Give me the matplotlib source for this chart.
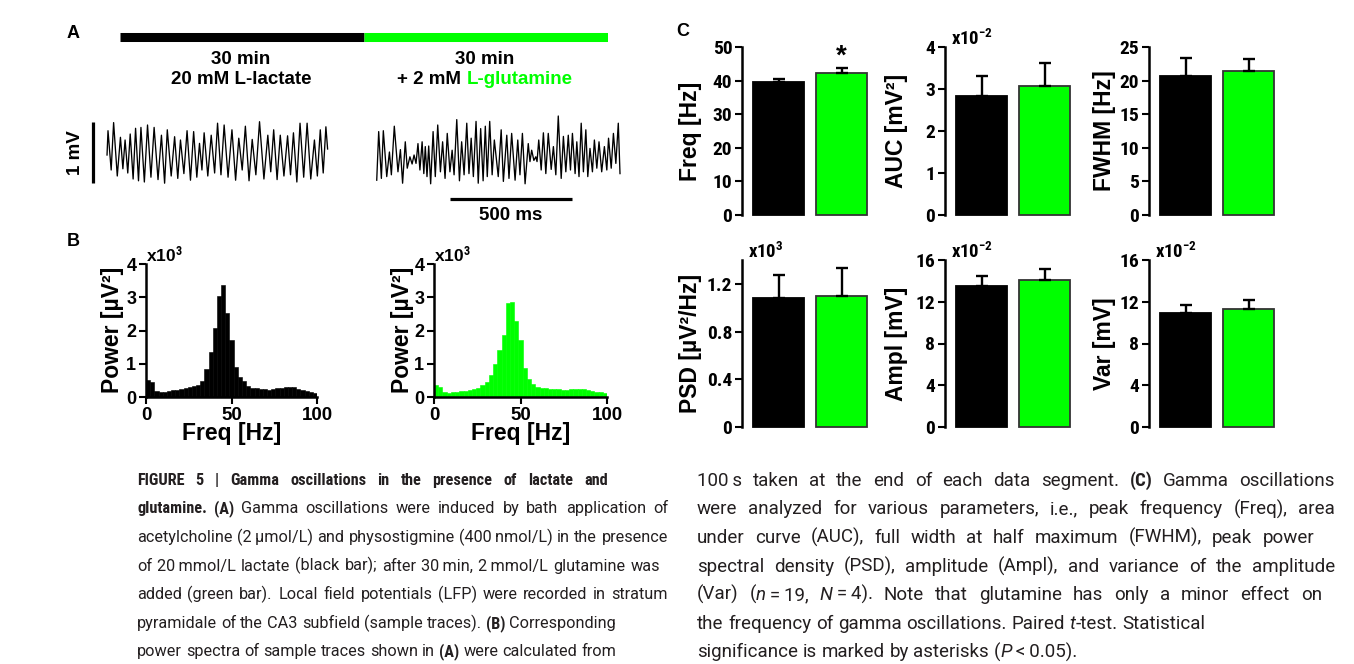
import matplotlib
matplotlib.use('Agg')
import matplotlib.pyplot as plt
from matplotlib.font_manager import fontManager
import numpy as np

W, H, DPI = 1354, 664, 100
GREEN = '#00ff00'
CAPC = '#231f20'

_names = {f.name for f in fontManager.ttflist}
BASE = 'Liberation Sans' if 'Liberation Sans' in _names else 'DejaVu Sans'
NARROW = None
for _nm in ['Liberation Sans Narrow', 'Arial Narrow', 'Roboto Condensed',
            'Nimbus Sans Narrow', 'Open Sans Condensed']:
    if _nm in _names:
        NARROW = _nm
        break
HAVE_NARROW = NARROW is not None
if not HAVE_NARROW:
    NARROW = BASE
CAP_REG = 'Roboto' if 'Roboto' in _names else BASE

plt.rcParams['font.family'] = [BASE, 'DejaVu Sans']
plt.rcParams['mathtext.fontset'] = 'custom'
plt.rcParams['mathtext.rm'] = BASE
plt.rcParams['mathtext.bf'] = BASE + ':bold'
plt.rcParams['mathtext.it'] = BASE + ':italic'

# ------------------------------------------------------------------ data
cond_durations_min = [30, 30]
cond_colors = ['black', GREEN]
cond_line1 = ['30 min', '30 min']

# LFP sample traces: extrema (time in ms from trace start, voltage in mV)
left_t = [-4, 0, 13, 23, 38, 51, 61, 70, 81, 91, 103, 113, 125, 135, 149, 162, 176, 189,
          205, 219, 232, 243, 259, 273, 286, 297, 311, 324, 338, 351, 364, 375, 385, 394,
          409, 423, 437, 449, 463, 476, 492, 508, 523, 536, 550, 563, 578, 591, 606, 621,
          639, 655, 667, 679, 693, 706, 721, 736, 748, 760, 774, 787, 802, 816, 831, 846,
          858, 870, 882, 893, 900]
left_v = [-0.05, 0.355, -0.30, 0.49, -0.40, 0.245, -0.28, 0.20, -0.35, 0.30, -0.45, 0.395,
          -0.48, 0.41, -0.50, 0.45, -0.42, 0.41, -0.46, 0.28, -0.52, 0.37, -0.40, 0.255,
          -0.44, 0.20, -0.36, 0.355, -0.47, 0.34, -0.42, 0.144, -0.30, 0.32, -0.40, 0.28,
          -0.35, 0.48, -0.38, 0.45, -0.42, 0.37, -0.47, 0.23, -0.30, 0.43, -0.48, 0.21,
          -0.38, 0.505, -0.45, 0.28, -0.33, 0.37, -0.46, 0.28, -0.40, 0.27, -0.38, 0.32,
          -0.50, 0.48, -0.42, 0.48, -0.45, 0.20, -0.40, 0.37, -0.35, 0.42, 0.05]

right_t = [3, 11, 22, 30, 44, 55, 63, 75, 90, 100, 109, 120, 128, 139, 148, 156, 164, 172,
           180, 189, 196, 202, 209, 216, 224, 234, 243, 253, 264, 273, 283, 292, 303, 312,
           320, 331, 342, 351, 361, 372, 381, 390, 399, 410, 419, 429, 439, 448, 456, 466,
           476, 485, 501, 513, 522, 536, 545, 556, 570, 581, 590, 600, 611, 624, 631, 638,
           647, 655, 660, 667, 677, 686, 696, 706, 718, 727, 737, 747, 759, 768, 778, 788,
           797, 805, 816, 823, 832, 841, 850, 860, 868, 877, 887, 895, 905, 914, 925, 936,
           946, 953, 964, 973, 983, 993, 1000]
right_v = [-0.47, 0.34, -0.44, 0.355, -0.41, 0.00, -0.38, 0.43, -0.33, 0.04, -0.52, 0.17,
           -0.27, -0.08, -0.20, -0.05, -0.19, 0.14, -0.30, 0.17, -0.36, 0.09, -0.41, 0.10,
           -0.53, 0.34, -0.41, 0.45, -0.33, 0.17, -0.44, 0.31, -0.33, 0.03, -0.38, 0.54,
           -0.48, 0.17, -0.38, 0.48, -0.36, 0.23, -0.41, 0.51, -0.52, 0.39, -0.48, 0.43,
           -0.41, 0.51, -0.38, 0.20, -0.41, 0.37, -0.49, 0.28, -0.44, 0.31, -0.47, 0.20,
           -0.38, 0.31, -0.53, 0.14, -0.16, 0.03, -0.14, -0.08, -0.16, 0.20, -0.30, 0.32,
           -0.36, 0.31, -0.29, 0.09, -0.38, 0.60, -0.44, 0.26, -0.33, 0.28, -0.30, 0.31,
           -0.36, 0.17, -0.41, 0.48, -0.33, 0.37, -0.41, 0.06, -0.33, 0.20, -0.27, 0.17,
           -0.33, 0.09, -0.30, 0.23, -0.27, 0.31, -0.19, 0.48, -0.36]

# power spectra (x10^3 uV^2), bins of 2.441 Hz starting at 0 Hz
spec_bin_hz = 2.441
spec_lactate = [0.52, 0.45, 0.18, 0.16, 0.16, 0.18, 0.20, 0.22, 0.24, 0.26, 0.29, 0.32,
                0.37, 0.48, 0.83, 1.36, 2.07, 3.03, 3.38, 2.52, 1.70, 0.91, 0.61, 0.47,
                0.33, 0.28, 0.26, 0.25, 0.23, 0.22, 0.24, 0.26, 0.28, 0.29, 0.30, 0.29,
                0.25, 0.20, 0.17, 0.14, 0.13]
spec_glut = [0.36, 0.30, 0.15, 0.13, 0.14, 0.15, 0.17, 0.19, 0.21, 0.24, 0.28, 0.36,
             0.45, 0.65, 1.00, 1.41, 1.87, 2.83, 2.86, 2.30, 1.70, 0.86, 0.55, 0.40,
             0.30, 0.27, 0.26, 0.25, 0.24, 0.23, 0.22, 0.22, 0.23, 0.24, 0.24, 0.23,
             0.21, 0.18, 0.16, 0.14, 0.13]
spec_xticks = [0, 50, 100]
spec_yticks = [0, 1, 2, 3, 4]

# panel C summary values
c_ylabels = ['Freq [Hz]', 'AUC [mV\u00b2]', 'FWHM [Hz]', 'PSD [\u00b5V\u00b2/Hz]', 'Ampl [mV]', 'Var [mV]']
c_mult = ['', '-2', '', '3', '-2', '-2']
c_ytop = [50, 4, 25, 1.4, 16, 16]
c_yticks = [[0, 10, 20, 30, 40, 50], [0, 1, 2, 3, 4], [0, 5, 10, 15, 20, 25],
            [0, 0.4, 0.8, 1.2], [0, 4, 8, 12, 16], [0, 4, 8, 12, 16]]
c_yticklabels = [['0', '10', '20', '30', '40', '50'], ['0', '1', '2', '3', '4'],
                 ['0', '5', '10', '15', '20', '25'], ['0', '0.4', '0.8', '1.2'],
                 ['0', '4', '8', '12', '16'], ['0', '4', '8', '12', '16']]
mean_lac = [39.6, 2.84, 20.7, 1.08, 13.5, 10.9]
sem_lac = [0.8, 0.47, 2.7, 0.195, 0.94, 0.78]
mean_glu = [42.4, 3.08, 21.5, 1.095, 14.1, 11.3]
sem_glu = [1.3, 0.54, 1.7, 0.235, 1.07, 0.84]
signif = [True, False, False, False, False, False]

caption_left = [
    "*FIGURE 5 | Gamma oscillations in the presence of lactate and",
    "glutamine.* *(A)* Gamma oscillations were induced by bath application of",
    "acetylcholine (2\u2009\u00b5mol/L) and physostigmine (400\u2009nmol/L) in the presence",
    "of 20\u2009mmol/L lactate (black bar); after 30\u2009min, 2\u2009mmol/L glutamine was",
    "added (green bar). Local field potentials (LFP) were recorded in stratum",
    "pyramidale of the CA3 subfield (sample traces). *(B)* Corresponding",
    "power spectra of sample traces shown in *(A)* were calculated from",
]
caption_right = [
    "100\u2009s taken at the end of each data segment. *(C)* Gamma oscillations",
    "were analyzed for various parameters, i.e., peak frequency (Freq), area",
    "under curve (AUC), full width at half maximum (FWHM), peak power",
    "spectral density (PSD), amplitude (Ampl), and variance of the amplitude",
    "(Var) (_n_\u2009=\u200919, _N_\u2009=\u20094). Note that glutamine has only a minor effect on",
    "the frequency of gamma oscillations. Paired _t_-test. Statistical",
    "significance is marked by asterisks (_P_\u2009<\u20090.05).",
]
cap_left_ends = [608, 668, 668, 660, 668, 668, 668]
cap_right_ends = [1335, 1335, 1314, 1335, 1322, 1335, 1335]
cap_left_justify = [True, True, True, True, True, False, False]
cap_right_justify = [True, True, True, True, True, False, False]

# ------------------------------------------------------------------ figure
fig = plt.figure(figsize=(W / DPI, H / DPI), dpi=DPI)
fig.patch.set_facecolor('white')
renderer = fig.canvas.get_renderer()


def ax_px(l, t, r, b):
    return fig.add_axes([l / W, 1 - b / H, (r - l) / W, (b - t) / H])


def ftext(x, y, s, **kw):
    return fig.text(x / W, 1 - y / H, s, **kw)


def text_w(t):
    return t.get_window_extent(renderer=renderer).width


# panel letters
for lab, (x, y) in zip('ABC', [(73, 33), (73, 242), (683, 32)]):
    ftext(x, y, lab, fontsize=13, weight='bold', ha='center', va='center')

# ---- panel A: condition timeline
ax_tl = ax_px(120, 28, 608, 46)
ax_tl.set_xlim(0, sum(cond_durations_min))
ax_tl.set_ylim(0, 1)
ax_tl.axis('off')
start = 0
for d, col in zip(cond_durations_min, cond_colors):
    ax_tl.plot([start, start + d], [0.5, 0.5], color=col, lw=6.5, solid_capstyle='butt')
    start += d

AFS = 13.5
ftext(241, 60, cond_line1[0], fontsize=AFS, weight='bold', ha='center', va='center')
ftext(241, 80, '20 mM L-lactate', fontsize=AFS, weight='bold', ha='center', va='center')
ftext(485, 60, cond_line1[1], fontsize=AFS, weight='bold', ha='center', va='center')
t1 = ftext(0, 80, '+ 2 mM ', fontsize=AFS, weight='bold', ha='left', va='center')
t2 = ftext(0, 80, 'L-glutamine', fontsize=AFS, weight='bold', ha='left', va='center', color=GREEN)
w1, w2 = text_w(t1), text_w(t2)
x_start = 485 - (w1 + w2) / 2
t1.set_x(x_start / W)
t2.set_x((x_start + w1) / W)

# ---- panel A: traces
PX_PER_MS = 122 / 500.0
ax_tr = ax_px(60, 100, 640, 226)
ax_tr.set_xlim(0, 580 / PX_PER_MS)
ax_tr.set_ylim(-74 / 60.0, 52 / 60.0)
ax_tr.axis('off')
left_off = (108 - 60) / PX_PER_MS
right_off = (376 - 60) / PX_PER_MS
ax_tr.plot(np.array(left_t) + left_off, left_v, color='black', lw=0.95)
ax_tr.plot(np.array(right_t) + right_off, right_v, color='black', lw=0.95)
sb_x = (93 - 60) / PX_PER_MS
ax_tr.plot([sb_x, sb_x], [0.50, -0.517], color='black', lw=2.3, solid_capstyle='butt')
ax_tr.text((75 - 60) / PX_PER_MS, -0.01, '1 mV', rotation=90, fontsize=AFS, weight='bold',
           ha='center', va='center')
tb0 = (450 - 60) / PX_PER_MS
ax_tr.plot([tb0, tb0 + 500], [-0.783, -0.783], color='black', lw=2.3, solid_capstyle='butt')
ax_tr.text(tb0 + 250, -1.05, '500 ms', fontsize=AFS, weight='bold', ha='center', va='center')

# ---- panel B: power spectra
spec_edges = np.arange(len(spec_lactate)) * spec_bin_hz
for (l, r), vals, col, lab_x in [((146, 317), spec_lactate, 'black', 113),
                                  ((434, 607), spec_glut, GREEN, 403)]:
    ax = ax_px(l, 264, r, 397)
    ax.bar(spec_edges, vals, width=spec_bin_hz, align='edge', color=col,
           edgecolor=col, linewidth=0.4)
    ax.set_xlim(0, 100)
    ax.set_ylim(0, 4)
    for s in ['top', 'right']:
        ax.spines[s].set_visible(False)
    for s in ['left', 'bottom']:
        ax.spines[s].set_linewidth(1.8)
    ax.set_xticks(spec_xticks)
    ax.set_yticks(spec_yticks)
    ax.tick_params(direction='out', length=5, width=1.5, pad=2)
    ax.set_xticklabels([str(v) for v in spec_xticks], fontsize=13.5, weight='bold')
    ax.set_yticklabels([str(v) for v in spec_yticks], fontsize=13, weight='bold')
    ax.text(0.0, 1.07, 'x10$^{\\mathbf{3}}$', transform=ax.transAxes, fontsize=12.5,
            weight='bold', ha='left', va='center')
    ax.set_xlabel('Freq [Hz]', fontsize=16.5, weight='bold')
    ax.xaxis.set_label_coords(0.5, -0.19)
    ftext(lab_x, 330, 'Power [\u00b5V\u00b2]', fontsize=16.5, weight='bold', rotation=90,
          ha='center', va='center')

# ---- panel C: bar charts
c_x0 = [742, 945, 1149]
c_lab_x = [690, 896, 1104]
rows = [(47, 215), (260, 427)]
TICKFAM = [NARROW, 'DejaVu Sans']
TICKFS = 14 if HAVE_NARROW else 12.5
plt.rcParams['mathtext.bf'] = NARROW + ':bold'
for i in range(6):
    r, c = divmod(i, 3)
    t, b = rows[r]
    l = c_x0[c]
    ax = ax_px(l, t, l + 128, b)
    ax.bar([0, 1], [mean_lac[i], mean_glu[i]], width=0.8, color=['black', GREEN],
           edgecolor=['black', '#333333'], linewidth=1.3, zorder=2)
    ax.errorbar([0, 1], [mean_lac[i], mean_glu[i]],
                yerr=[[0, 0], [sem_lac[i], sem_glu[i]]], fmt='none', ecolor='black',
                elinewidth=1.7, capsize=4.5, capthick=1.7, zorder=3)
    ax.set_xlim(-0.58, 1.45)
    ax.set_ylim(0, c_ytop[i])
    for s in ['top', 'right', 'bottom']:
        ax.spines[s].set_visible(False)
    ax.spines['left'].set_linewidth(1.8)
    ax.set_xticks([])
    ax.set_yticks(c_yticks[i])
    ax.set_yticklabels(c_yticklabels[i], fontsize=TICKFS, weight='bold', family=TICKFAM)
    ax.tick_params(axis='y', direction='out', length=5, width=1.5, pad=2)
    ax.patch.set_alpha(0)
    for art in ax.get_children():
        try:
            art.set_clip_on(False)
        except Exception:
            pass
    if c_mult[i]:
        ax.text(0.05, 1.0 + 8.0 / (b - t), 'x10$^{\\mathbf{%s}}$' % c_mult[i],
                transform=ax.transAxes, fontsize=TICKFS - 0.5, weight='bold',
                family=TICKFAM, ha='left', va='center')
    if signif[i]:
        ax.text(1, mean_glu[i] + sem_glu[i] + 0.07 * c_ytop[i], '*', fontsize=20,
                weight='bold', ha='center', va='center')
    ftext(c_lab_x[c], (t + b) / 2, c_ylabels[i], fontsize=16.5, weight='bold', rotation=90,
          ha='center', va='center')


# ---- caption (justified lines, font size fitted per column)
def parse_words(line, state):
    words = []
    for raw in line.split(' '):
        pieces, cur = [], ''
        for ch in raw:
            if ch in '*_':
                if cur:
                    pieces.append((cur, state['b'], state['i']))
                cur = ''
                if ch == '*':
                    state['b'] = not state['b']
                else:
                    state['i'] = not state['i']
            else:
                cur += ch
        if cur:
            pieces.append((cur, state['b'], state['i']))
        if pieces:
            words.append(pieces)
    return words


def make_piece(x, y, s, bld, it, fs):
    if bld:
        fam, wt = [NARROW, 'DejaVu Sans'], 'bold'
    else:
        fam, wt = [CAP_REG, BASE, 'DejaVu Sans'], 'normal'
    return ftext(x, y, s, fontsize=fs, family=fam, color=CAPC, weight=wt,
                 style='italic' if it else 'normal', ha='left', va='baseline')


def make_line(words, x0, ybase, fs):
    objs, wws = [], []
    for w in words:
        row, tot = [], 0
        for (s, bld, it) in w:
            tx = make_piece(x0, ybase, s, bld, it, fs)
            ww = text_w(tx)
            row.append((tx, ww))
            tot += ww
        objs.append(row)
        wws.append(tot)
    return objs, wws


row_y0, row_dy = 479, 28.6
for lines, x0, ends, just in [(caption_left, 137, cap_left_ends, cap_left_justify),
                              (caption_right, 697, cap_right_ends, cap_right_justify)]:
    state = {'b': False, 'i': False}
    col_lines = [(parse_words(ln, state), x1, j) for ln, x1, j in zip(lines, ends, just)]
    fs = 13.5
    while fs > 8:
        ok = True
        for words, x1, j in col_lines:
            objs, wws = make_line(words, x0, 0, fs)
            for row in objs:
                for tx, _ in row:
                    tx.remove()
            nat = 0.25 * fs * DPI / 72
            if sum(wws) + nat * (len(words) - 1) > (x1 - x0):
                ok = False
                break
        if ok:
            break
        fs -= 0.1
    for k, (words, x1, j) in enumerate(col_lines):
        ybase = row_y0 + k * row_dy + 0.36 * fs * DPI / 72
        objs, wws = make_line(words, x0, ybase, fs)
        gaps = max(len(words) - 1, 1)
        if j:
            space = (x1 - x0 - sum(wws)) / gaps
        else:
            space = 0.25 * fs * DPI / 72
        x = x0
        for row, tot in zip(objs, wws):
            xx = x
            for tx, ww in row:
                tx.set_x(xx / W)
                xx += ww
            x += tot + space

fig.savefig('out.png', dpi=DPI, facecolor='white')
